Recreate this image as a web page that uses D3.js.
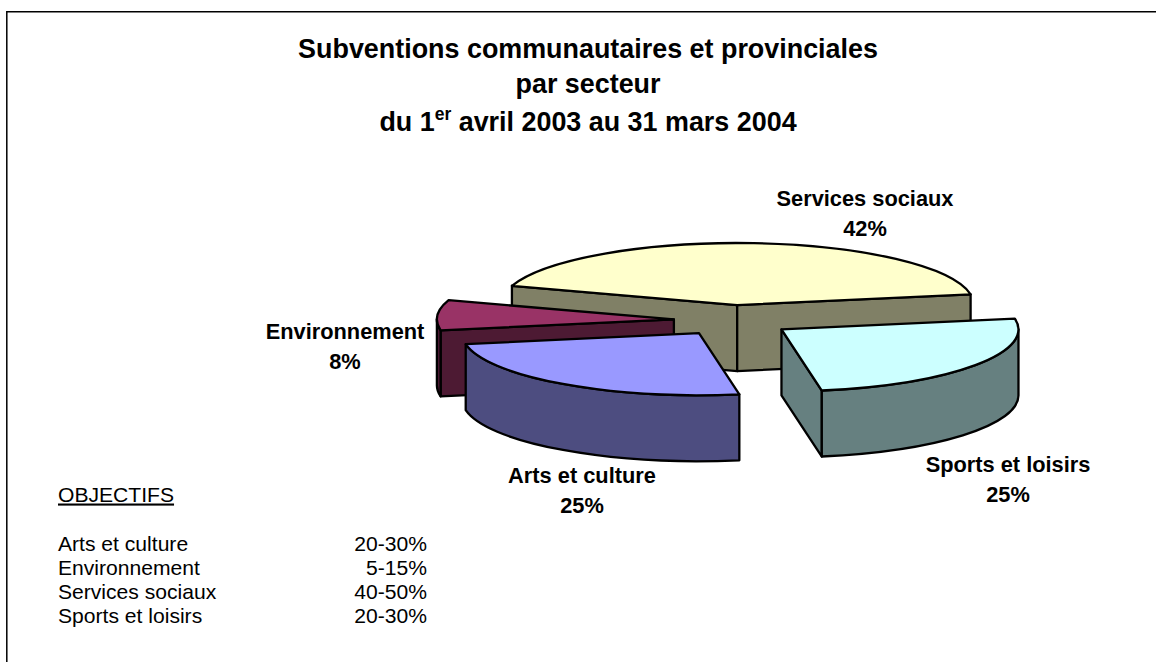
<!DOCTYPE html>
<html>
<head>
<meta charset="utf-8">
<script src="https://cdn.jsdelivr.net/npm/d3@7"></script>
<style>
  html, body { margin: 0; padding: 0; background: #fff; overflow: hidden; }
  text { font-family: "Liberation Sans", Arial, sans-serif; fill: #000; }
</style>
</head>
<body>
<svg id="chart" width="1156" height="662"></svg>
<script>
// Data
const categories = ['Services sociaux', 'Sports et loisirs', 'Arts et culture', 'Environnement'];
const shares = [42.2, 25.05, 24.9, 7.85];
const topColors = ['#FFFFCC', '#CCFFFF', '#9999FF', '#993366'];
const sideColors = ['#808066', '#668080', '#4D4D80', '#4D1A33'];
const objectiveNames = ['Arts et culture', 'Environnement', 'Services sociaux', 'Sports et loisirs'];
const objectiveRanges = ['20-30%', '5-15%', '40-50%', '20-30%'];
const labelPositions = [[865, 206], [1008, 472], [582, 483], [345, 339]];

// Pie geometry
const cx = 733, cy = 320.5;
const rx = 237, ry = 62;
const depth = 66;
const explode = 0.25;
const startAngle = -71.9 * Math.PI / 180;
const strokeW = 2.3;

const svg = d3.select('#chart');

// Frame
svg.append('path')
    .attr('d', 'M6.8,662V11.8H1156')
    .attr('fill', 'none')
    .attr('stroke', '#000')
    .attr('stroke-width', 1.5);

// Title
const title = svg.append('text')
    .attr('text-anchor', 'middle')
    .attr('font-size', 26.9)
    .attr('font-weight', 'bold');
title.append('tspan').attr('x', 588).attr('y', 58).text('Subventions communautaires et provinciales');
title.append('tspan').attr('x', 588).attr('y', 93).text('par secteur');
const line3 = title.append('tspan').attr('x', 588).attr('y', 131);
line3.append('tspan').text('du 1');
line3.append('tspan').attr('dy', -11).attr('font-size', 17.5).text('er');
line3.append('tspan').attr('dy', 11).text(' avril 2003 au 31 mars 2004');

// Slices
const pie = d3.pie()
    .sort(null)
    .startAngle(startAngle)
    .endAngle(startAngle + 2 * Math.PI);
const arcs = pie(shares).map((d, i) => ({ ...d, i }));

function project(c, a) {
    return [c[0] + rx * Math.sin(a), c[1] - ry * Math.cos(a)];
}

function drawShape(d, fill) {
    svg.append('path')
        .attr('d', d)
        .attr('fill', fill)
        .attr('stroke', '#000')
        .attr('stroke-width', strokeW)
        .attr('stroke-linejoin', 'round');
}

function cutFace(c, p, fill) {
    drawShape(`M${c}L${p}L${p[0]},${p[1] + depth}L${c[0]},${c[1] + depth}Z`, fill);
}

function arcTo(p, sweep) {
    return `A${rx},${ry} 0 0 ${sweep} ${p[0]},${p[1]}`;
}

// Back to front: services, environnement, arts, sports
[0, 3, 2, 1].forEach(idx => {
    const d = arcs[idx];
    const mid = (d.startAngle + d.endAngle) / 2;
    const off = project([0, 0], mid);
    const c = [cx + off[0] * explode, cy + off[1] * explode];
    const side = sideColors[idx];

    // Cut faces, only the ones turned to the viewer
    if (Math.sin(d.startAngle) < 0) cutFace(c, project(c, d.startAngle), side);
    if (Math.sin(d.endAngle) > 0) cutFace(c, project(c, d.endAngle), side);

    // Outer wall, front half of the ellipse only
    const from = Math.max(d.startAngle, Math.PI / 2);
    const to = Math.min(d.endAngle, 3 * Math.PI / 2);
    if (to > from) {
        const a = project(c, from), b = project(c, to);
        drawShape(`M${a}${arcTo(b, 1)}L${b[0]},${b[1] + depth}${arcTo([a[0], a[1] + depth], 0)}Z`, side);
    }

    // Top
    const s = project(c, d.startAngle), e = project(c, d.endAngle);
    drawShape(`M${c}L${s}${arcTo(e, 1)}Z`, topColors[idx]);
});

// Slice labels
categories.forEach((name, i) => {
    const [lx, ly] = labelPositions[i];
    const t = svg.append('text')
        .attr('text-anchor', 'middle')
        .attr('font-size', 21.8)
        .attr('font-weight', 'bold');
    t.append('tspan').attr('x', lx).attr('y', ly).text(name);
    t.append('tspan').attr('x', lx).attr('y', ly + 30).text(Math.round(shares[i]) + '%');
});

// Objectives table
svg.append('text')
    .attr('x', 58).attr('y', 501.5)
    .attr('font-size', 21.1)
    .attr('text-decoration', 'underline')
    .text('OBJECTIFS');

const rowY = d3.scalePoint()
    .domain(objectiveNames)
    .range([551, 623]);

svg.append('g').selectAll('text')
    .data(objectiveNames)
    .join('text')
    .attr('x', 58)
    .attr('y', d => rowY(d))
    .attr('font-size', 21.1)
    .text(d => d);

svg.append('g').selectAll('text')
    .data(objectiveRanges)
    .join('text')
    .attr('x', 427)
    .attr('y', (d, i) => rowY(objectiveNames[i]))
    .attr('text-anchor', 'end')
    .attr('font-size', 21.1)
    .text(d => d);
</script>
</body>
</html>
